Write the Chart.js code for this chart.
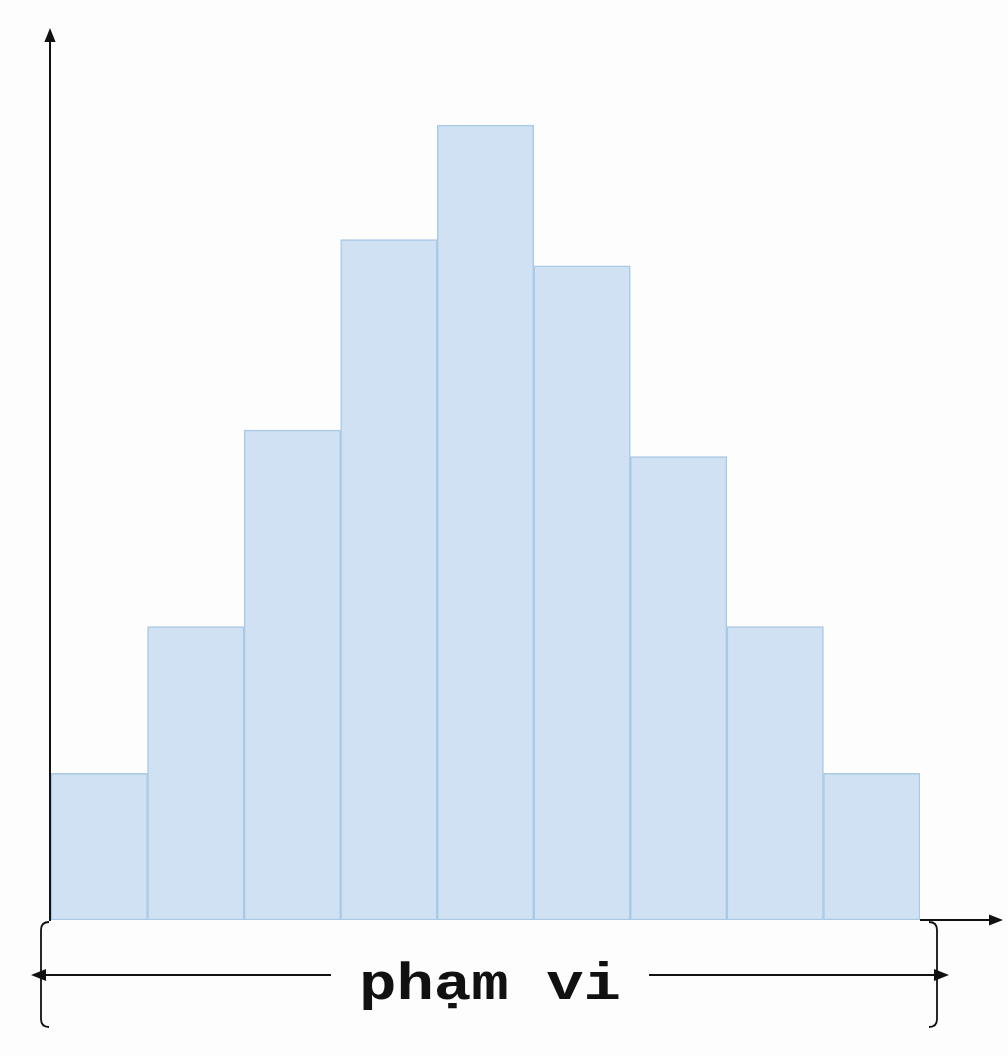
<!DOCTYPE html>
<html>
<head>
<meta charset="utf-8">
<script src="https://cdn.jsdelivr.net/npm/chart.js@4.4.1/dist/chart.umd.min.js"></script>
<style>
  html, body { margin: 0; padding: 0; background: #fdfdfd; }
  #wrap { width: 1008px; height: 1056px; }
</style>
</head>
<body>
<div id="wrap"><canvas id="hist"></canvas></div>
<script>
// bins of the histogram (no tick labels shown in the picture)
const bins = ['1', '2', '3', '4', '5', '6', '7', '8', '9'];
const counts = [5, 10, 16.7, 23.2, 27.1, 22.3, 15.8, 10, 5];
const yMax = 30;
const rangeLabel = 'phạm vi';

function arrowHead(ctx, x, y, dir, size) {
  // dir: 'up' | 'right' | 'left'
  ctx.beginPath();
  if (dir === 'up') {
    ctx.moveTo(x, y);
    ctx.lineTo(x - size * 0.4, y + size);
    ctx.lineTo(x + size * 0.4, y + size);
  } else if (dir === 'right') {
    ctx.moveTo(x, y);
    ctx.lineTo(x - size, y - size * 0.4);
    ctx.lineTo(x - size, y + size * 0.4);
  } else {
    ctx.moveTo(x, y);
    ctx.lineTo(x + size, y - size * 0.4);
    ctx.lineTo(x + size, y + size * 0.4);
  }
  ctx.closePath();
  ctx.fill();
}

// axes with arrows, plus the bracket and "range" arrow under the bars
const annotations = {
  id: 'annotations',
  afterDatasetsDraw(chart) {
    const { ctx, chartArea: a } = chart;
    ctx.save();
    ctx.strokeStyle = '#111';
    ctx.fillStyle = '#111';
    ctx.lineWidth = 2;

    // y axis
    const ax = a.left - 1;
    ctx.beginPath();
    ctx.moveTo(ax, a.bottom + 1);
    ctx.lineTo(ax, a.top - 2);
    ctx.stroke();
    arrowHead(ctx, ax, a.top - 12, 'up', 14);

    // x axis (only beyond the last bar, bars sit on their own edge)
    ctx.beginPath();
    ctx.moveTo(a.right, a.bottom);
    ctx.lineTo(a.right + 70, a.bottom);
    ctx.stroke();
    arrowHead(ctx, a.right + 83, a.bottom, 'right', 14);

    // bracket
    const bl = a.left - 10, br = a.right + 17;
    const bt = a.bottom + 2, bb = a.bottom + 107;
    const r = 8;
    ctx.lineWidth = 1.8;
    [[bl, 1], [br, -1]].forEach(([x, s]) => {
      ctx.beginPath();
      ctx.moveTo(x + s * r, bt);
      ctx.quadraticCurveTo(x, bt, x, bt + r);
      ctx.lineTo(x, bb - r);
      ctx.quadraticCurveTo(x, bb, x + s * r, bb);
      ctx.stroke();
    });

    // range arrow + label
    const my = a.bottom + 55;
    const cx = 490;
    const sx = 1.2;
    ctx.font = 'bold 52px "Liberation Mono", "DejaVu Sans Mono", monospace';
    const tw = ctx.measureText(rangeLabel).width * sx;
    ctx.lineWidth = 2;
    ctx.beginPath();
    ctx.moveTo(bl - 2, my);
    ctx.lineTo(cx - tw / 2 - 28, my);
    ctx.moveTo(cx + tw / 2 + 28, my);
    ctx.lineTo(br + 2, my);
    ctx.stroke();
    arrowHead(ctx, bl - 10, my, 'left', 15);
    arrowHead(ctx, br + 12, my, 'right', 15);

    ctx.translate(cx, my + 24);
    ctx.scale(sx, 1);
    ctx.textAlign = 'center';
    ctx.textBaseline = 'alphabetic';
    ctx.fillText(rangeLabel, 0, 0);

    ctx.restore();
  }
};

new Chart(document.getElementById('hist'), {
  type: 'bar',
  data: {
    labels: bins,
    datasets: [{
      data: counts,
      backgroundColor: '#cfe1f2',
      borderColor: '#a9c9e5',
      borderWidth: 1.5,
      borderSkipped: false,
      categoryPercentage: 1,
      barPercentage: 1,
    }]
  },
  options: {
    responsive: true,
    maintainAspectRatio: false,
    animation: false,
    layout: { padding: { left: 51, right: 88, top: 40, bottom: 136 } },
    scales: {
      x: { display: false },
      y: { display: false, min: 0, max: yMax },
    },
    plugins: {
      legend: { display: false },
      tooltip: { enabled: false },
    }
  },
  plugins: [annotations]
});
</script>
</body>
</html>
